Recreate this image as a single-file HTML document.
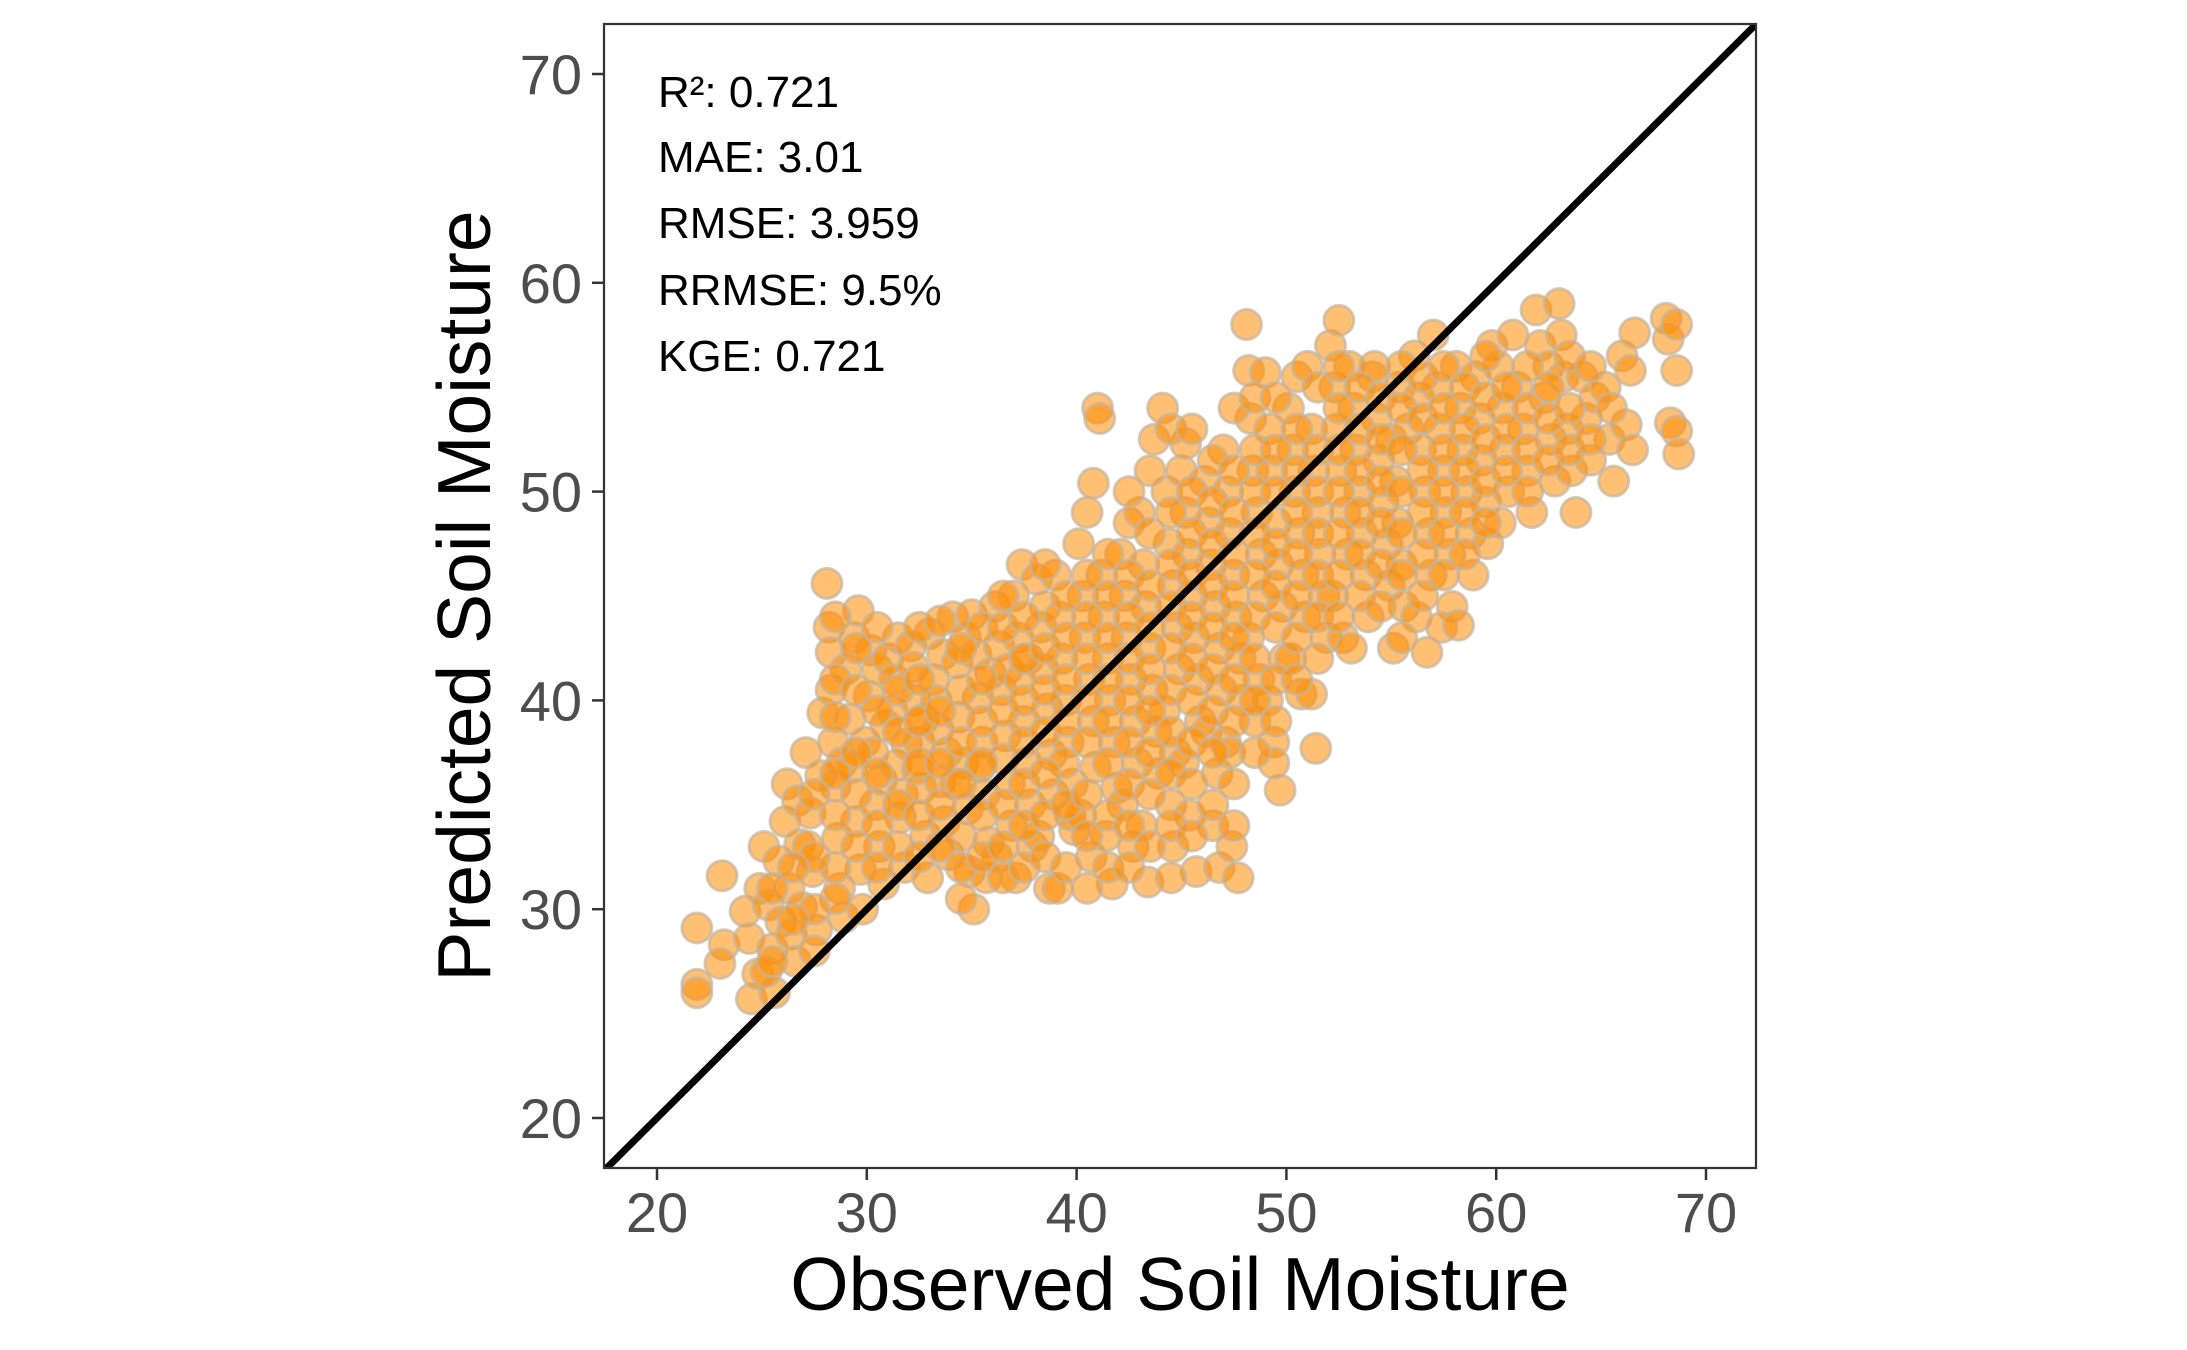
<!DOCTYPE html>
<html><head><meta charset="utf-8">
<style>
html,body{margin:0;padding:0;background:#fff;}
svg{display:block;font-family:"Liberation Sans",Arial,sans-serif;}
</style></head>
<body>
<svg id="chart" width="2187" height="1350" viewBox="0 0 2187 1350" xmlns="http://www.w3.org/2000/svg">
<defs><clipPath id="panelClip"><rect x="604" y="24" width="1152" height="1144"/></clipPath></defs>
<rect x="604" y="24" width="1152" height="1144" fill="#fff"/>
<g id="points" clip-path="url(#panelClip)"></g>
<g id="refline" clip-path="url(#panelClip)"></g>
<rect x="604" y="24" width="1152" height="1144" fill="none" stroke="#333" stroke-width="2.2"/>
<g id="axes"></g>
<g font-size="44" fill="#000">
<text x="658" y="107">R²: 0.721</text>
<text x="658" y="172">MAE: 3.01</text>
<text x="658" y="238">RMSE: 3.959</text>
<text x="658" y="305">RRMSE: 9.5%</text>
<text x="658" y="371">KGE: 0.721</text>
</g>
<text x="1180" y="1310" text-anchor="middle" font-size="75" fill="#000">Observed Soil Moisture</text>
<text transform="translate(490,596) rotate(-90)" text-anchor="middle" font-size="75" fill="#000">Predicted Soil Moisture</text>
</svg>
<script>
const xTicks = [20, 30, 40, 50, 60, 70];
const yTicks = [20, 30, 40, 50, 60, 70];
const domainMin = 17.47;
const domainMax = 72.4;
const obs = [
21.9,21.9,21.9, 23.1,23.2,23.0, 24.2,24.4,24.5,24.8,24.9,
25.1,25.3,25.5,25.6,25.8,25.9,25.2, 26.1,26.3,26.4,26.6,26.8,26.9,26.2,26.7,
27.1,27.3,27.4,27.6,27.8,27.9,27.2,27.5, 28.1,28.2,28.3,28.4,28.5,28.6,28.7,28.9,28.3,28.8,
29.0,29.2,29.3,29.5,29.7,29.8,29.4,29.9,29.6, 30.1,30.3,30.4,30.6,30.8,30.2,30.9,30.5,30.7,
31.0,31.2,31.4,31.6,31.8,31.3,31.9,31.5,31.7, 32.1,32.3,32.5,32.6,32.8,32.9,32.2,32.7,32.4,
33.0,33.2,33.4,33.5,33.7,33.9,33.3,33.8,33.6, 34.1,34.3,34.4,34.6,34.8,34.9,34.2,34.7,34.5,
35.0,35.2,35.3,35.5,35.6,35.8,35.1,35.9,35.4,35.7, 36.1,36.3,36.4,36.6,36.8,36.9,36.2,36.7,36.5,
37.0,37.2,37.3,37.5,37.6,37.8,37.9,37.1,37.4,37.7, 38.1,38.3,38.4,38.6,38.8,38.9,38.2,38.7,38.5,
39.0,39.2,39.3,39.5,39.6,39.8,39.9,39.1,39.4,39.7, 40.1,40.3,40.4,40.6,40.8,40.9,40.2,40.7,40.5,40.8,
41.0,41.1,41.2,41.3,41.5,41.6,41.8,41.9,41.4,41.7, 42.1,42.3,42.4,42.6,42.8,42.9,42.2,42.7,42.5,
43.0,43.2,43.3,43.5,43.6,43.8,43.9,43.1,43.4,43.7, 44.1,44.3,44.4,44.6,44.8,44.9,44.2,44.7,44.5,44.6,
45.0,45.2,45.3,45.5,45.6,45.8,45.9,45.1,45.4,45.7,45.2, 46.1,46.3,46.4,46.6,46.8,46.9,46.2,46.7,46.5,46.8,
47.0,47.2,47.3,47.5,47.6,47.8,47.9,47.1,47.4,47.7,47.3, 48.1,48.2,48.3,48.4,48.6,48.8,48.9,48.2,48.7,48.5,
49.0,49.2,49.3,49.5,49.6,49.8,49.9,49.1,49.4,49.7,49.4, 50.1,50.3,50.4,50.6,50.8,50.9,50.2,50.7,50.5,
51.0,51.2,51.3,51.5,51.6,51.8,51.9,51.4,51.2, 52.1,52.3,52.4,52.6,52.8,52.9,52.2,52.7,52.5,
53.0,53.2,53.3,53.5,53.6,53.8,53.9,53.1, 54.1,54.3,54.4,54.6,54.8,54.9,54.2,
55.0,55.2,55.3,55.5,55.6,55.1,55.4,55.8, 56.1,56.3,56.4,56.6,56.8,56.9,56.2,56.7,
57.0,57.2,57.3,57.5,57.6,57.8,57.9,57.4, 58.1,58.3,58.4,58.6,58.8,58.9,58.2,
59.0,59.2,59.3,59.5,59.6,59.8, 60.1,60.3,60.4,60.6,60.2,60.8, 61.0,61.3,61.5,61.7,61.9,
62.1,62.3,62.6,62.8,62.5, 63.0,63.2,63.4,63.6,63.8,63.1, 64.1,64.3,64.5,64.7, 65.2,65.4,65.6,
66.0,66.2,66.4,66.5,66.6, 68.1,68.2,68.3,68.6,68.6,68.7,68.6
];
const pred = [
29.1,26.4,26.0, 31.6,28.3,27.4, 29.9,28.6,25.7,26.9,31.0,
33.0,30.2,28.1,26.0,32.3,29.4,27.0, 34.2,31.0,28.8,27.5,33.1,30.1,36.0,35.2,
37.5,34.6,31.8,29.0,36.4,39.4,33.0,28.0, 45.6,43.5,40.5,38.0,35.9,33.4,31.0,29.6,42.3,37.0,
41.5,39.1,36.8,34.2,31.9,30.0,43.0,38.0,44.3, 40.2,37.5,35.0,33.0,31.2,42.4,38.8,41.5,36.2,
42.0,39.5,36.9,34.4,32.0,41.0,37.9,43.0,35.5, 42.6,40.0,38.0,35.8,33.5,31.5,41.6,39.1,36.7,
43.2,41.0,38.6,36.1,34.2,32.6,40.0,37.5,42.2, 44.0,41.8,39.2,37.0,34.8,31.8,36.0,43.0,33.5,
44.1,42.2,40.1,38.0,35.5,33.2,30.0,41.3,36.8,31.5, 44.5,42.6,40.5,38.3,36.0,34.0,32.5,41.5,37.2,
45.0,43.0,41.0,39.0,37.0,35.0,33.0,31.5,46.5,42.0, 45.8,43.5,41.5,39.6,37.4,35.5,33.5,31.0,44.5,
46.0,44.0,42.0,40.0,38.0,36.0,33.8,31.0,37.0,34.5, 47.5,45.0,43.0,41.0,39.0,36.8,34.5,32.5,49.0,50.4,
54.0,53.5,46.0,44.0,42.0,40.0,38.0,35.8,33.5,31.2, 47.0,45.0,43.0,41.0,39.0,37.0,35.0,33.0,48.5,
49.0,46.5,44.5,42.5,40.5,38.5,36.5,34.0,31.3,52.5, 54.0,50.0,47.5,45.5,43.5,41.5,39.5,37.5,35.0,33.0,
51.0,49.0,47.0,45.0,43.0,41.0,39.0,37.0,34.5,31.8,52.3, 50.5,48.5,46.5,44.5,42.5,40.5,38.5,36.5,34.0,32.0,
52.0,50.0,48.0,46.0,44.0,42.0,40.0,38.0,33.0,31.5,37.5, 58.0,55.8,53.5,51.0,49.0,47.0,45.0,43.0,41.0,39.0,
55.7,53.0,51.0,48.5,46.5,44.5,42.0,40.0,38.0,35.7,37.0, 54.0,52.0,50.0,48.0,46.0,44.0,42.0,40.3,55.5,
56.0,53.0,51.0,49.0,47.0,45.0,43.0,37.7,40.3, 57.0,55.0,53.0,51.0,49.0,47.0,45.0,43.0,58.2,
56.0,54.0,52.0,50.0,48.0,46.0,44.0,42.5, 55.5,53.5,51.5,49.5,47.5,45.5,56.0,
52.5,50.5,48.5,46.5,44.5,42.5,55.0,53.0, 56.5,54.5,52.0,50.0,48.0,46.0,44.0,42.3,
57.5,55.0,53.0,51.0,49.0,47.0,44.5,43.5, 56.0,54.0,52.0,50.0,48.0,46.0,43.6,
55.5,53.5,51.5,49.5,47.5,57.0, 56.0,54.0,52.0,50.0,48.5,57.5, 55.0,53.0,51.0,49.0,58.7,
57.0,54.5,52.5,50.5,56.0, 59.0,55.5,53.0,51.0,49.0,57.5, 55.5,53.5,51.5,54.5, 55.0,52.5,50.5,
56.5,53.2,55.8,52.0,57.6, 58.3,57.3,53.3,52.9,55.8,51.8,58.0
];
const obsExtra = [
28.5,28.5,28.5,28.5,28.5,28.5,28.5, 29.5,29.5,29.5,29.5,29.5, 30.5,30.5,30.5,30.5,30.5,
31.5,31.5,31.5,31.5, 32.5,32.5,32.5,32.5,32.5,32.5, 33.5,33.5,33.5,33.5,33.5,
34.5,34.5,34.5,34.5,34.5,34.5, 35.5,35.5,35.5,35.5,35.5,35.5, 36.5,36.5,36.5,36.5,36.5,36.5,
37.5,37.5,37.5,37.5,37.5,37.5,37.5, 38.5,38.5,38.5,38.5,38.5,38.5,38.5, 39.5,39.5,39.5,39.5,39.5,39.5,
40.5,40.5,40.5,40.5,40.5,40.5,40.5,40.5, 41.5,41.5,41.5,41.5,41.5,41.5,41.5,41.5,
42.5,42.5,42.5,42.5,42.5,42.5,42.5,42.5,42.5, 43.5,43.5,43.5,43.5,43.5,43.5,43.5,43.5,43.5,
44.5,44.5,44.5,44.5,44.5,44.5,44.5,44.5,44.5,44.5, 45.5,45.5,45.5,45.5,45.5,45.5,45.5,45.5,45.5,45.5,
46.5,46.5,46.5,46.5,46.5,46.5,46.5,46.5,46.5, 47.5,47.5,47.5,47.5,47.5,47.5,47.5,47.5,47.5,47.5,
48.5,48.5,48.5,48.5,48.5,48.5,48.5,48.5,48.5, 49.5,49.5,49.5,49.5,49.5,49.5,49.5,49.5,
50.5,50.5,50.5,50.5,50.5,50.5,50.5, 51.5,51.5,51.5,51.5,51.5,51.5,51.5, 52.5,52.5,52.5,52.5,52.5,52.5,52.5,
53.5,53.5,53.5,53.5,53.5,53.5, 54.5,54.5,54.5,54.5,54.5,54.5, 55.5,55.5,55.5,55.5,55.5,55.5,55.5,
56.5,56.5,56.5,56.5,56.5,56.5, 57.5,57.5,57.5,57.5,57.5,57.5, 58.5,58.5,58.5,58.5,58.5,
59.5,59.5,59.5,59.5,59.5, 60.5,60.5,60.5, 61.5,61.5,61.5,61.5, 62.5,62.5,62.5, 63.5,63.5,63.5,
64.5,64.5, 65.5, 27.5,27.5,27.5, 26.5,26.5, 25.5,25.5
];
const predExtra = [
44.0,41.0,39.2,36.5,34.5,32.0,30.5, 42.5,40.5,37.5,35.5,33.0, 43.5,39.5,36.5,34.0,32.0,
40.5,38.5,35.0,33.0, 43.5,41.0,39.0,37.0,34.5,32.5, 43.8,39.5,37.0,35.0,33.0,
42.5,40.5,38.0,36.0,32.0,30.5, 43.5,41.0,39.0,37.0,34.5,32.5, 45.0,43.5,39.5,35.0,33.0,31.5,
44.0,42.0,40.0,38.0,36.0,34.0,32.0, 46.5,42.5,40.5,38.5,36.5,34.5,32.5, 45.0,43.0,41.0,39.0,35.0,32.0,
46.0,44.0,42.0,40.0,38.0,35.5,33.5,31.0, 47.0,45.0,43.0,41.0,39.0,37.0,34.5,32.0,
50.0,46.0,44.0,42.0,40.0,38.0,36.0,34.0,32.0, 51.0,48.0,45.5,43.5,41.5,39.5,37.5,35.5,33.0,
53.0,49.0,46.5,44.5,42.5,40.5,38.5,36.5,34.0,31.5, 53.0,50.0,48.0,46.0,44.0,42.0,40.0,38.0,36.0,33.5,
51.5,49.5,47.5,45.5,43.5,41.5,39.5,37.5,35.0, 54.0,51.0,49.0,47.0,45.0,43.0,41.0,39.0,36.0,34.0,
54.5,52.0,50.0,48.0,46.0,44.0,42.0,40.0,37.5, 54.5,52.0,50.0,47.5,45.5,43.5,41.0,39.0,
53.0,51.0,49.0,47.0,45.0,43.0,41.0, 55.0,52.0,50.0,48.0,46.0,44.0,42.0, 56.0,54.0,52.0,50.0,48.0,46.0,44.0,
55.0,53.0,51.0,49.0,47.0,45.0, 54.5,52.5,50.5,48.5,46.5,44.5, 56.0,54.0,52.0,50.0,48.0,46.0,43.0,
55.5,53.5,51.0,49.0,47.0,45.0, 56.0,54.0,52.0,50.0,48.0,46.0, 55.0,53.0,51.0,49.0,47.0,
56.5,54.5,52.5,50.5,48.5, 55.0,53.0,51.0, 56.0,54.0,52.0,50.0, 55.0,53.5,51.5, 56.5,54.0,52.0,
56.0,52.5, 54.0, 35.5,32.5,30.0, 32.0,29.5, 31.0,27.5
];

const NS = 'http://www.w3.org/2000/svg';
function xScale(v){ return 657 + (v - 20) * 20.98; }
function yScale(v){ return 1118 - (v - 20) * 20.88; }

const pts = document.getElementById('points');
function drawPoints(xs, ys) {
  for (let i = 0; i < xs.length; i++) {
    const c = document.createElementNS(NS, 'circle');
    c.setAttribute('cx', xScale(xs[i]));
    c.setAttribute('cy', yScale(ys[i]));
    c.setAttribute('r', 15);
    c.setAttribute('fill', 'rgba(255,140,0,0.55)');
    c.setAttribute('stroke', 'rgba(195,180,160,0.7)');
    c.setAttribute('stroke-width', 3);
    
    
    pts.appendChild(c);
  }
}
drawPoints(obs, pred);
drawPoints(obsExtra, predExtra);

const ln = document.createElementNS(NS, 'line');
ln.setAttribute('x1', xScale(domainMin - 1));
ln.setAttribute('y1', yScale(domainMin - 1));
ln.setAttribute('x2', xScale(domainMax + 1));
ln.setAttribute('y2', yScale(domainMax + 1));
ln.setAttribute('stroke', '#000');
ln.setAttribute('stroke-width', 7);


document.getElementById('refline').appendChild(ln);

const axes = document.getElementById('axes');
xTicks.forEach(t => {
  const tk = document.createElementNS(NS, 'line');
  tk.setAttribute('x1', xScale(t)); tk.setAttribute('x2', xScale(t));
  tk.setAttribute('y1', 1168); tk.setAttribute('y2', 1180);
  tk.setAttribute('stroke', '#333'); tk.setAttribute('stroke-width', 2.5);
  
  
  axes.appendChild(tk);
  const tx = document.createElementNS(NS, 'text');
  tx.setAttribute('x', xScale(t)); tx.setAttribute('y', 1232);
  tx.setAttribute('text-anchor', 'middle');
  tx.setAttribute('font-size', 56); tx.setAttribute('fill', '#4d4d4d');
  tx.textContent = t;
  
  
  axes.appendChild(tx);
});
yTicks.forEach(t => {
  const tk = document.createElementNS(NS, 'line');
  tk.setAttribute('x1', 592); tk.setAttribute('x2', 604);
  tk.setAttribute('y1', yScale(t)); tk.setAttribute('y2', yScale(t));
  tk.setAttribute('stroke', '#333'); tk.setAttribute('stroke-width', 2.5);
  
  
  axes.appendChild(tk);
  const tx = document.createElementNS(NS, 'text');
  tx.setAttribute('x', 582); tx.setAttribute('y', yScale(t) + 20);
  tx.setAttribute('text-anchor', 'end');
  tx.setAttribute('font-size', 56); tx.setAttribute('fill', '#4d4d4d');
  tx.textContent = t;
  
  
  axes.appendChild(tx);
});
</script>
</body></html>
